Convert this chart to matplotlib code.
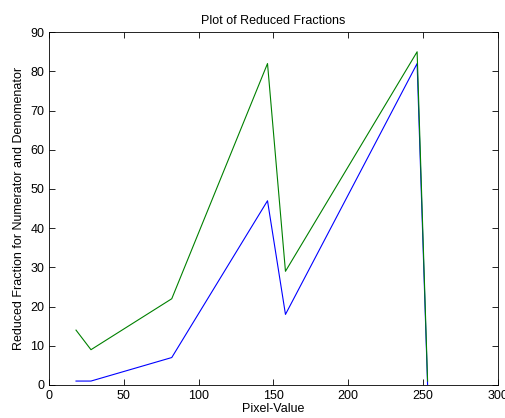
import matplotlib
matplotlib.use("Agg")
import matplotlib.pyplot as plt

plt.rcParams['font.family'] = ['Liberation Sans', 'DejaVu Sans']

pixel_values = [18, 28, 82, 146, 158, 246, 253]
numerators = [1, 1, 7, 47, 18, 82, 0]
denominators = [14, 9, 22, 82, 29, 85, 1]

fig = plt.figure(figsize=(5.06, 4.18), dpi=100)
ax = fig.add_axes([0.097, 0.079, 0.887, 0.844])

ax.plot(pixel_values, numerators, color=(0, 0, 1), lw=0.8)
ax.plot(pixel_values, denominators, color=(0, 0.5, 0), lw=0.8)

ax.set_xlim(0, 300)
ax.set_ylim(0, 90)
ax.set_xticks(range(0, 301, 50))
ax.set_yticks(range(0, 91, 10))
ax.tick_params(direction='in', top=True, right=True, labelsize=9, length=4, width=0.6)
for s in ax.spines.values():
    s.set_linewidth(0.6)

ax.set_title("Plot of Reduced Fractions", fontsize=9)
ax.set_xlabel("Pixel-Value", fontsize=9, labelpad=1)
ax.set_ylabel("Reduced Fraction for Numerator and Denomenator", fontsize=9)

fig.savefig("out.png")
